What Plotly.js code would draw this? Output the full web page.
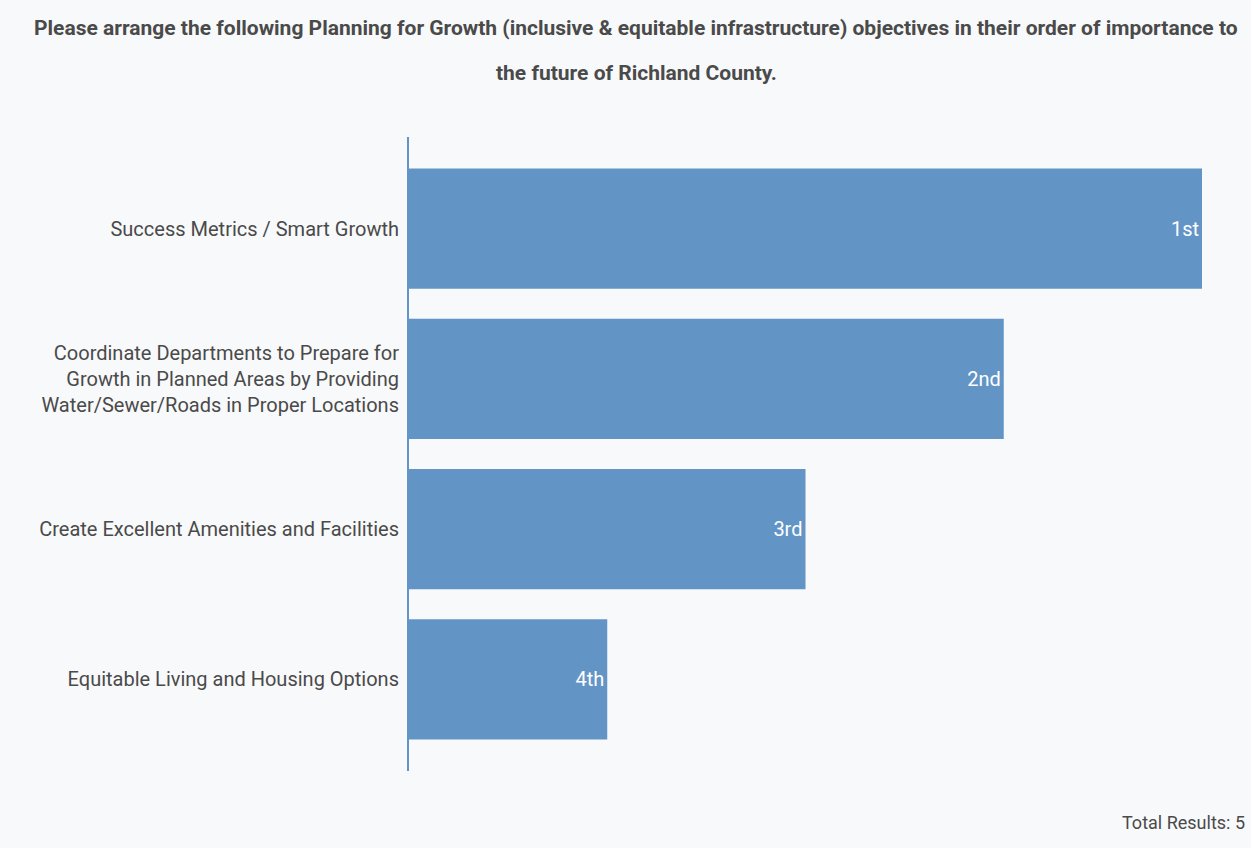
<!DOCTYPE html>
<html>
<head>
<meta charset="utf-8">
<script src="https://cdn.plot.ly/plotly-3.0.1.min.js"></script>
<style>
html,body{margin:0;padding:0;background:#f8f9fb;}
#chart{width:1251px;height:848px;}
</style>
</head>
<body>
<div id="chart"></div>
<script>
const categories = [
  "Success Metrics / Smart Growth",
  "Coordinate Departments to Prepare for<br>Growth in Planned Areas by Providing<br>Water/Sewer/Roads in Proper Locations",
  "Create Excellent Amenities and Facilities",
  "Equitable Living and Housing Options"
];
const scores = [4, 3, 2, 1];
const rankLabels = ["1st", "2nd", "3rd", "4th"];
const titleLine1 = "Please arrange the following Planning for Growth (inclusive & equitable infrastructure) objectives in their order of importance to";
const titleLine2 = "the future of Richland County.";
const totalText = "Total Results: 5";

const FONT = "Roboto, 'Liberation Sans', sans-serif";

const trace = {
  type: "bar",
  orientation: "h",
  y: categories,
  x: scores,
  text: rankLabels,
  textposition: "inside",
  insidetextanchor: "end",
  textfont: {family: FONT, size: 20, color: "#ffffff"},
  marker: {color: "#6295c6"},
  hoverinfo: "none",
  cliponaxis: false
};

const layout = {
  width: 1251,
  height: 848,
  paper_bgcolor: "#f8f9fb",
  plot_bgcolor: "#f8f9fb",
  margin: {l: 409, r: 49, t: 137, b: 77},
  bargap: 0.2,
  showlegend: false,
  font: {family: FONT, color: "#4a4a4a"},
  xaxis: {
    range: [0, 4],
    showgrid: false,
    zeroline: false,
    showticklabels: false,
    showline: false,
    fixedrange: true
  },
  yaxis: {
    type: "category",
    autorange: false,
    range: [3.61, -0.61],
    showgrid: false,
    zeroline: false,
    showline: true,
    linecolor: "#6295c6",
    linewidth: 2,
    ticks: "",
    ticklabelstandoff: 4,
    tickfont: {family: FONT, size: 20, color: "#4a4a4a"},
    fixedrange: true
  },
  annotations: [
    {text: "<b>" + titleLine1 + "</b>", xref: "paper", yref: "paper", x: 0.5, y: 0, xanchor: "center", yanchor: "middle",
     showarrow: false, font: {family: FONT, size: 21, color: "#4a4a4a"}},
    {text: "<b>" + titleLine2 + "</b>", xref: "paper", yref: "paper", x: 0.5, y: 0, xanchor: "center", yanchor: "middle",
     showarrow: false, font: {family: FONT, size: 21, color: "#4a4a4a"}},
    {text: totalText, xref: "paper", yref: "paper", x: 1, y: 0, xanchor: "right", yanchor: "middle",
     showarrow: false, font: {family: FONT, size: 18, color: "#4a4a4a"}}
  ]
};

// position annotations in pixel terms relative to plot area
const plotH = 848 - 137 - 77;
const plotW = 1251 - 409 - 49;
function py(pixY) { return (848 - 77 - pixY) / plotH; }
function px(pixX) { return (pixX - 409) / plotW; }
layout.annotations[0].y = py(28); layout.annotations[0].x = px(636);
layout.annotations[1].y = py(73); layout.annotations[1].x = px(636);
layout.annotations[2].y = py(822); layout.annotations[2].x = px(1247);

Plotly.newPlot("chart", [trace], layout, {displayModeBar: false, staticPlot: true});
</script>
</body>
</html>
